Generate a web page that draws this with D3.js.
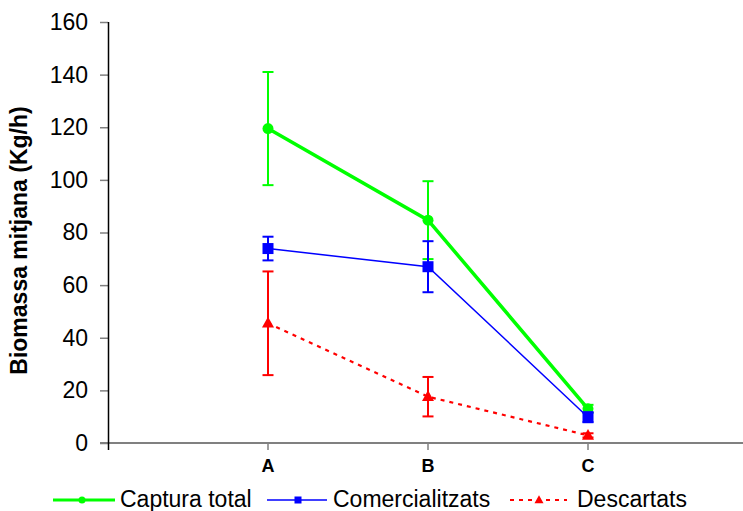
<!DOCTYPE html>
<html>
<head>
<meta charset="utf-8">
<script src="https://cdn.jsdelivr.net/npm/d3@7"></script>
<style>
  html, body { margin: 0; padding: 0; background: #fff; }
  svg { display: block; font-family: "Liberation Sans", Arial, sans-serif; }
</style>
</head>
<body>
<svg id="chart" width="743" height="511"></svg>
<script>
// Mean biomass per zone with standard error
const categories = ["A", "B", "C"];
const capturaTotal = [119.5, 84.7, 13.0];
const capturaErr = [21.5, 14.8, 1.5];
const comercialitzats = [73.9, 67.0, 9.8];
const comercialErr = [4.5, 9.7, 1.9];
const descartats = [45.5, 17.6, 2.9];
const descartErr = [19.7, 7.5, 0.8];
const yTicks = [0, 20, 40, 60, 80, 100, 120, 140, 160];
const seriesNames = ["Captura total", "Comercialitzats", "Descartats"];

const svg = d3.select("#chart");

// Category positions sit at 1, 2, 3 on a 0..4 axis
const x = d3.scaleLinear().domain([0, 4]).range([108, 748]);
const y = d3.scaleLinear().domain([0, 160]).range([443, 22]);
const xPos = i => x(i + 1);

// X axis line (grey), extending left past the value axis
svg.append("line")
  .attr("x1", 100).attr("x2", 743)
  .attr("y1", y(0)).attr("y2", y(0))
  .attr("stroke", "#808080").attr("stroke-width", 2);

// Category ticks and labels
const xg = svg.append("g");
categories.forEach((c, i) => {
  xg.append("line")
    .attr("x1", xPos(i)).attr("x2", xPos(i))
    .attr("y1", y(0)).attr("y2", y(0) + 7)
    .attr("stroke", "#808080").attr("stroke-width", 1.5);
  xg.append("text")
    .attr("x", xPos(i)).attr("y", 472)
    .attr("text-anchor", "middle")
    .attr("font-size", 18).attr("font-weight", "bold")
    .text(c);
});

// Value axis
const yAxis = d3.axisLeft(y).tickValues(yTicks).tickSize(8).tickPadding(12).tickFormat(d3.format("d"));
const yg = svg.append("g").attr("transform", "translate(108,0)").call(yAxis);
yg.select(".domain").remove();
yg.selectAll(".tick line").attr("stroke", "#808080").attr("stroke-width", 1.5);
yg.selectAll(".tick text").attr("font-size", 23).attr("fill", "#000")
  .attr("font-family", "Liberation Sans, Arial, sans-serif");
svg.append("line")
  .attr("x1", 108.5).attr("x2", 108.5)
  .attr("y1", y(160)).attr("y2", y(0) + 7)
  .attr("stroke", "#000").attr("stroke-width", 1.5);

// Axis title
svg.append("text")
  .attr("transform", `translate(27,${(y(0) + y(160)) / 2 + 8}) rotate(-90)`)
  .attr("text-anchor", "middle")
  .attr("font-size", 23).attr("font-weight", "bold")
  .text("Biomassa mitjana (Kg/h)");

const series = [
  { name: seriesNames[0], values: capturaTotal, err: capturaErr, color: "#00ff00", width: 3.5, dash: null, marker: "circle", size: 11 },
  { name: seriesNames[1], values: comercialitzats, err: comercialErr, color: "#0000ff", width: 1.5, dash: null, marker: "square", size: 11 },
  { name: seriesNames[2], values: descartats, err: descartErr, color: "#ff0000", width: 2.2, dash: "4,5", marker: "triangle", size: 12 }
];

function drawMarker(g, type, cx, cy, size, color) {
  if (type === "circle") {
    g.append("circle").attr("cx", cx).attr("cy", cy).attr("r", size / 2).attr("fill", color);
  } else if (type === "square") {
    g.append("rect").attr("x", cx - size / 2).attr("y", cy - size / 2)
      .attr("width", size).attr("height", size).attr("fill", color);
  } else {
    const h = size * 0.9;
    g.append("path")
      .attr("d", `M${cx},${cy - h * 0.6} L${cx + size / 2},${cy + h * 0.4} L${cx - size / 2},${cy + h * 0.4} Z`)
      .attr("fill", color);
  }
}

const line = d3.line().x((d, i) => xPos(i)).y(d => y(d));

series.forEach(s => {
  const g = svg.append("g");
  // Error bars
  s.values.forEach((v, i) => {
    const cx = xPos(i);
    const top = y(v + s.err[i]), bot = y(v - s.err[i]);
    g.append("line").attr("x1", cx).attr("x2", cx).attr("y1", top).attr("y2", bot)
      .attr("stroke", s.color).attr("stroke-width", 2);
    [top, bot].forEach(yy => {
      g.append("line").attr("x1", cx - 5.5).attr("x2", cx + 5.5).attr("y1", yy).attr("y2", yy)
        .attr("stroke", s.color).attr("stroke-width", 2);
    });
  });
  // Series line
  g.append("path").datum(s.values).attr("d", line)
    .attr("fill", "none").attr("stroke", s.color).attr("stroke-width", s.width)
    .attr("stroke-dasharray", s.dash);
  // Markers
  s.values.forEach((v, i) => drawMarker(g, s.marker, xPos(i), y(v), s.size, s.color));
});

// Legend
const legend = [
  { x1: 53, x2: 115, mx: 82, tx: 120, size: 7 },
  { x1: 267, x2: 327, mx: 298, tx: 333, size: 7 },
  { x1: 510, x2: 567, mx: 539, tx: 577, size: 9 }
];
series.forEach((s, k) => {
  const L = legend[k];
  const g = svg.append("g");
  g.append("line").attr("x1", L.x1).attr("x2", L.x2).attr("y1", 500).attr("y2", 500)
    .attr("stroke", s.color).attr("stroke-width", s.width === 3.5 ? 3 : (s.dash ? 2.2 : 1.5))
    .attr("stroke-dasharray", s.dash);
  drawMarker(g, s.marker, L.mx, 500, L.size, s.color);
  g.append("text").attr("x", L.tx).attr("y", 507).attr("font-size", 23).text(s.name);
});
</script>
</body>
</html>
